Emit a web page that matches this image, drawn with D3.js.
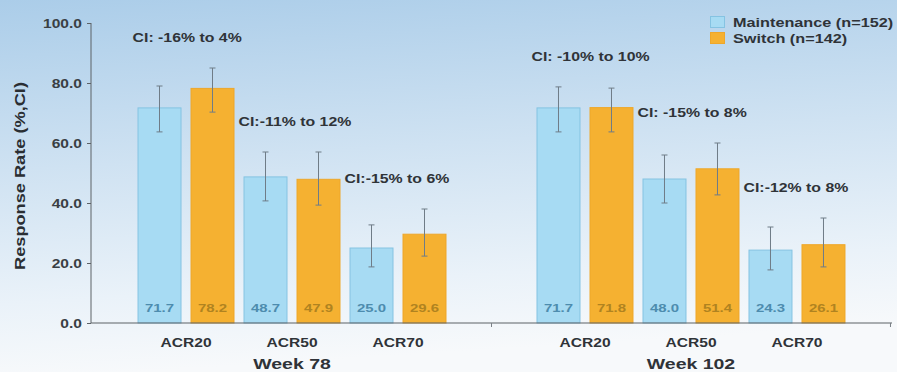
<!DOCTYPE html>
<html>
<head>
<meta charset="utf-8">
<script src="https://cdn.jsdelivr.net/npm/d3@7/dist/d3.min.js"></script>
<style>
  html, body { margin: 0; padding: 0; background: #fff; }
  svg { display: block; }
  text { font-family: "Liberation Sans", Arial, sans-serif; font-weight: bold; }
</style>
</head>
<body>
<svg id="chart" width="897" height="372"></svg>
<script>
// ---- data ----
const weeks = ["Week 78", "Week 102"];
const measures = ["ACR20", "ACR50", "ACR70"];
const groups = ["Maintenance (n=152)", "Switch (n=142)"];

const maintenance78 = [71.7, 48.7, 25.0];
const switch78 = [78.2, 47.9, 29.6];
const maintenance102 = [71.7, 48.0, 24.3];
const switch102 = [71.8, 51.4, 26.1];

// 95% CI bounds per bar [lower, upper]
const maintenance78CI = [[63.7, 79.0], [40.7, 57.0], [18.7, 32.7]];
const switch78CI = [[70.3, 85.0], [39.3, 57.0], [22.3, 38.0]];
const maintenance102CI = [[63.7, 78.7], [40.0, 56.0], [17.7, 32.0]];
const switch102CI = [[63.7, 78.3], [42.7, 60.0], [18.7, 35.0]];

// CI of the difference between arms
const diffCI78 = ["CI: -16% to 4%", "CI:-11% to 12%", "CI:-15% to 6%"];
const diffCI102 = ["CI: -10% to 10%", "CI: -15% to 8%", "CI:-12% to 8%"];

const yTicks = [0, 20, 40, 60, 80, 100];
const yTitle = "Response Rate (%,CI)";

// ---- assemble rows ----
const seriesByWeek = {
  "Week 78": { values: [maintenance78, switch78], ci: [maintenance78CI, switch78CI], diff: diffCI78 },
  "Week 102": { values: [maintenance102, switch102], ci: [maintenance102CI, switch102CI], diff: diffCI102 }
};
const bars = [];
weeks.forEach(w => {
  measures.forEach((m, mi) => {
    groups.forEach((g, gi) => {
      const s = seriesByWeek[w];
      bars.push({ week: w, measure: m, group: gi, key: m + "|" + gi,
                  value: s.values[gi][mi], lo: s.ci[gi][mi][0], hi: s.ci[gi][mi][1] });
    });
  });
});

// ---- layout ----
const W = 897, H = 372;
const axisX = 91, axisRight = 892, axisTop = 23, axisBottom = 323;
const svg = d3.select("#chart");

const defs = svg.append("defs");
const grad = defs.append("linearGradient").attr("id", "bg")
  .attr("x1", 0).attr("y1", 0).attr("x2", 0.15).attr("y2", 1);
grad.append("stop").attr("offset", "0%").attr("stop-color", "#abcde9");
grad.append("stop").attr("offset", "45%").attr("stop-color", "#cfe2f2");
grad.append("stop").attr("offset", "80%").attr("stop-color", "#eaf2f9");
grad.append("stop").attr("offset", "100%").attr("stop-color", "#f7f9fb");
svg.append("rect").attr("width", W).attr("height", H).attr("fill", "url(#bg)");

const y = d3.scaleLinear().domain([0, 100]).range([axisBottom, axisTop]);
const xWeek = d3.scaleBand().domain(weeks).range([axisX, axisRight])
  .paddingInner(0.2256).paddingOuter(0.1166);
const xBar = d3.scaleBand().domain(bars.filter(b => b.week === weeks[0]).map(b => b.key))
  .range([0, xWeek.bandwidth()]).paddingInner(0.17).paddingOuter(0);

const colors = ["#a7dbf3", "#f5b131"];
const strokes = ["#85c3e2", "#eea72a"];
const valueColors = ["#4d8cae", "#b08320"];
const textColor = "#2f3338";

// widened-text helper
function label(sel, x, y, str, opt) {
  const sx = opt.sx || 1.25;
  const rot = opt.rotate ? ` rotate(${opt.rotate})` : "";
  return sel.append("text")
    .attr("transform", `translate(${x},${y})${rot} scale(${sx},1)`)
    .attr("font-size", opt.size)
    .attr("text-anchor", opt.anchor || "start")
    .attr("fill", opt.fill || textColor)
    .text(str);
}

// ---- y axis ----
const yAxis = svg.append("g").attr("transform", `translate(${axisX},0)`)
  .call(d3.axisLeft(y).tickValues(yTicks).tickSize(4).tickFormat(() => ""));
yAxis.select(".domain").attr("stroke", "#5d6266").attr("d", `M0,${axisTop}V${axisBottom}`);
yAxis.selectAll(".tick line").attr("stroke", "#5d6266");
yTicks.forEach(t => {
  label(svg, axisX - 9, y(t) + 4.5, d3.format(".1f")(t), { size: 12, anchor: "end", sx: 1.3, fill: "#3a3f44" });
});
label(svg, 25, 176, yTitle, { size: 14, anchor: "middle", rotate: -90, sx: 1.3, fill: "#2a2e33" });

// ---- bars ----
const barG = svg.append("g");
barG.selectAll("rect").data(bars).join("rect")
  .attr("x", d => xWeek(d.week) + xBar(d.key) + 0.5)
  .attr("y", d => y(d.value))
  .attr("width", xBar.bandwidth() - 1)
  .attr("height", d => y(0) - y(d.value))
  .attr("fill", d => colors[d.group])
  .attr("stroke", d => strokes[d.group])
  .attr("stroke-width", 1);

// error bars
const errG = svg.append("g").attr("stroke", "#6f7c87").attr("stroke-width", 1).attr("fill", "none");
bars.forEach(d => {
  const cx = xWeek(d.week) + xBar(d.key) + xBar.bandwidth() / 2;
  errG.append("line").attr("x1", cx).attr("x2", cx).attr("y1", y(d.hi)).attr("y2", y(d.lo));
  errG.append("line").attr("x1", cx - 3).attr("x2", cx + 3).attr("y1", y(d.hi)).attr("y2", y(d.hi));
  errG.append("line").attr("x1", cx - 3).attr("x2", cx + 3).attr("y1", y(d.lo)).attr("y2", y(d.lo));
});

// value labels at the foot of each bar
bars.forEach(d => {
  const cx = xWeek(d.week) + xBar(d.key) + xBar.bandwidth() / 2;
  label(svg, cx, axisBottom - 11, d3.format(".1f")(d.value), { size: 11.5, anchor: "middle", sx: 1.3, fill: valueColors[d.group] });
});

// ---- x axis ----
svg.append("line").attr("x1", axisX).attr("x2", axisRight).attr("y1", axisBottom).attr("y2", axisBottom)
  .attr("stroke", "#5d6266").attr("stroke-width", 1.2);
// boundary ticks between and after the week groups
weeks.forEach(w => {
  const bx = xWeek(w) + xWeek.bandwidth() + xWeek.step() * xWeek.paddingInner() / 2;
  const tx = Math.min(bx, axisRight);
  svg.append("line").attr("x1", tx).attr("x2", tx).attr("y1", axisBottom).attr("y2", axisBottom + 4)
    .attr("stroke", "#7a8086");
});

// measure labels and week labels
weeks.forEach(w => {
  measures.forEach(m => {
    const x0 = xWeek(w) + xBar(m + "|0");
    const x1 = xWeek(w) + xBar(m + "|1") + xBar.bandwidth();
    label(svg, (x0 + x1) / 2, 347, m, { size: 12, anchor: "middle", sx: 1.3 });
  });
  label(svg, xWeek(w) + xWeek.bandwidth() / 2, 369, w, { size: 15, anchor: "middle", sx: 1.3 });
});

// difference CI annotations above each pair
weeks.forEach(w => {
  measures.forEach((m, mi) => {
    const pair = bars.filter(b => b.week === w && b.measure === m);
    const top = d3.max(pair, b => b.hi);
    const x0 = xWeek(w) + xBar(m + "|0");
    label(svg, x0 - 5, y(top) - 26, seriesByWeek[w].diff[mi], { size: 13, anchor: "start", sx: 1.22 });
  });
});

// ---- legend ----
const legend = svg.append("g");
groups.forEach((g, i) => {
  legend.append("rect").attr("x", 710.5).attr("y", 16.5 + i * 16).attr("width", 14).attr("height", 11)
    .attr("fill", colors[i]).attr("stroke", strokes[i]);
  label(legend, 733, 27 + i * 16, g, { size: 12.5, anchor: "start", sx: 1.3 });
});
</script>
</body>
</html>
